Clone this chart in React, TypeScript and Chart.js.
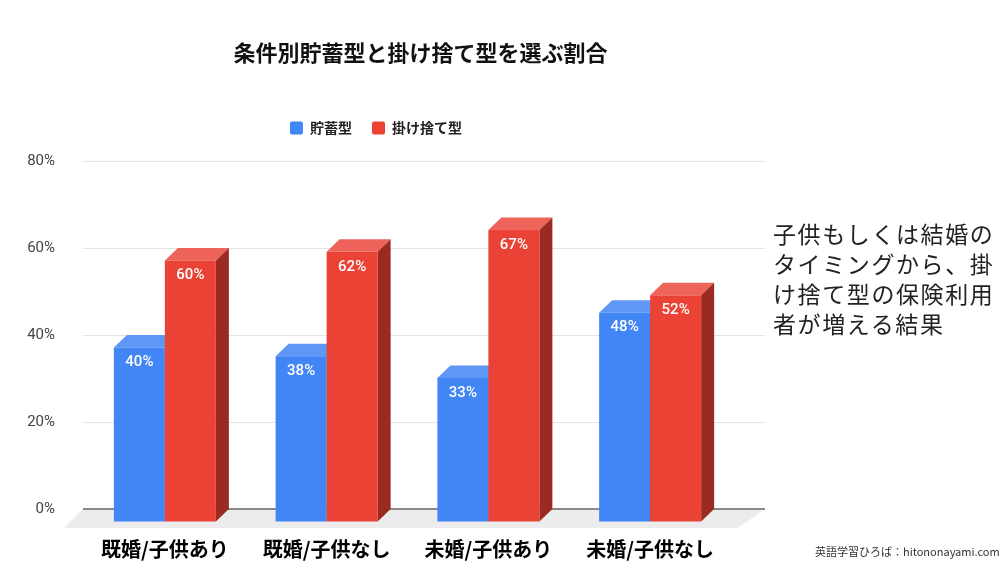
import { useEffect, useRef } from "react";
import { Chart, registerables } from "chart.js";

Chart.register(...registerables);

const categories = ["既婚/子供あり", "既婚/子供なし", "未婚/子供あり", "未婚/子供なし"];
const savingsType = [40, 38, 33, 48];
const termType = [60, 62, 67, 52];
const yTicks = [0, 20, 40, 60, 80];

const noteLines = ["子供もしくは結婚の", "タイミングから、掛", "け捨て型の保険利用", "者が増える結果"];
const sourceText = "英語学習ひろば：hitononayami.com";

const JP = "'Noto Sans CJK JP', 'Noto Sans', sans-serif";

// colours of the faces: front, top, side
const faces = [
  { front: "#4285f4", top: "#5f97f6", side: "#2f63c4" },
  { front: "#ea4335", top: "#ee635a", side: "#9a2a22" },
];

// depth offset of the fake 3d (front face sits down-left of the value)
const DX = 13;
const DY = 12.5;

const bars3d = {
  id: "bars3d",
  beforeDatasetsDraw(chart: any) {
    const { ctx, chartArea, scales } = chart;
    const y = scales.y;
    const left = chartArea.left - 14;
    const right = chartArea.right + 21;
    const base = y.getPixelForValue(0);

    ctx.save();
    // grid
    ctx.strokeStyle = "#e3e3e3";
    ctx.lineWidth = 1;
    yTicks.forEach((v) => {
      if (v === 0) return;
      const py = Math.round(y.getPixelForValue(v)) + 0.5;
      ctx.beginPath();
      ctx.moveTo(left, py);
      ctx.lineTo(right, py);
      ctx.stroke();
    });

    // floor
    ctx.fillStyle = "#ececec";
    ctx.beginPath();
    ctx.moveTo(left, base);
    ctx.lineTo(right, base);
    ctx.lineTo(right - 27, base + 19);
    ctx.lineTo(left - 19, base + 19);
    ctx.closePath();
    ctx.fill();

    ctx.strokeStyle = "#666";
    ctx.lineWidth = 1.5;
    ctx.beginPath();
    ctx.moveTo(left, base);
    ctx.lineTo(right, base);
    ctx.stroke();

    const metas = chart.data.datasets.map((_: any, d: number) => chart.getDatasetMeta(d));
    categories.forEach((_, i) => {
      metas.forEach((meta: any, d: number) => {
        const bar = meta.data[i];
        const p = bar.getProps(["x", "y", "base", "width"], true);
        const c = faces[d];
        const l = p.x - p.width / 2;
        const r = p.x + p.width / 2;
        const top = p.y;
        const bottom = p.base;

        ctx.fillStyle = c.top;
        ctx.beginPath();
        ctx.moveTo(l - DX, top + DY);
        ctx.lineTo(l, top);
        ctx.lineTo(r, top);
        ctx.lineTo(r - DX, top + DY);
        ctx.closePath();
        ctx.fill();

        ctx.fillStyle = c.side;
        ctx.beginPath();
        ctx.moveTo(r - DX, top + DY);
        ctx.lineTo(r, top);
        ctx.lineTo(r, bottom);
        ctx.lineTo(r - DX, bottom + DY);
        ctx.closePath();
        ctx.fill();

        ctx.fillStyle = c.front;
        ctx.fillRect(l - DX, top + DY, p.width, bottom - top);

        const value = chart.data.datasets[d].data[i];
        ctx.fillStyle = "#ffffff";
        ctx.font = "500 15px Roboto, sans-serif";
        ctx.textAlign = "center";
        ctx.textBaseline = "middle";
        ctx.fillText(value + "%", p.x - DX, top + DY + 15);
      });
    });
    ctx.restore();
    return false;
  },
};

// extra room under the legend
const legendGap = {
  id: "legendGap",
  beforeInit(chart: any) {
    const fit = chart.legend.fit;
    chart.legend.fit = function () {
      fit.bind(chart.legend)();
      this.height += 16;
    };
  },
};

export default function App() {
  const canvasRef = useRef<HTMLCanvasElement>(null);

  useEffect(() => {
    if (!canvasRef.current) return;
    const chart = new Chart(canvasRef.current, {
      type: "bar",
      data: {
        labels: categories,
        datasets: [
          { label: "貯蓄型", data: savingsType, backgroundColor: faces[0].front, barThickness: 51 },
          { label: "掛け捨て型", data: termType, backgroundColor: faces[1].front, barThickness: 51 },
        ],
      },
      options: {
        responsive: false,
        animation: false,
        layout: { padding: { left: 8, right: 256, top: 0, bottom: 0 } },
        plugins: {
          title: {
            display: true,
            text: "条件別貯蓄型と掛け捨て型を選ぶ割合",
            fullSize: false,
            color: "#111",
            font: { family: JP, size: 22, weight: "bold" },
            padding: { top: 39, bottom: 35.6 },
          },
          legend: {
            position: "top",
            labels: {
              boxWidth: 13,
              boxHeight: 13,
              padding: 20,
              useBorderRadius: true,
              borderRadius: 2,
              color: "#222",
              font: { family: JP, size: 14, weight: "bold" },
            },
          },
          tooltip: { enabled: false },
        },
        scales: {
          x: {
            grid: { display: false },
            border: { display: false },
            ticks: {
              labelOffset: -DX,
              padding: 20,
              color: "#000",
              font: { family: JP, size: 20, weight: "bold" },
            },
            afterFit: (s: any) => {
              s.height = 54;
            },
          },
          y: {
            min: 0,
            max: 80,
            grid: { display: false },
            border: { display: false },
            afterBuildTicks: (s: any) => {
              s.ticks = yTicks.map((v) => ({ value: v }));
            },
            ticks: {
              padding: 34,
              color: "#444",
              font: { family: "Roboto, sans-serif", size: 15 },
              callback: (v: any) => v + "%",
            },
            afterFit: (s: any) => {
              s.width = 89;
            },
          },
        },
      },
      plugins: [bars3d, legendGap],
    });
    return () => chart.destroy();
  }, []);

  return (
    <div style={{ position: "absolute", left: 0, top: 0, width: 1000, height: 563, background: "#fff", overflow: "hidden" }}>
      <canvas ref={canvasRef} width={1000} height={563} style={{ position: "absolute", left: 0, top: 0 }} />
      <div
        style={{
          position: "absolute",
          left: 773,
          top: 218,
          fontFamily: JP,
          fontSize: 23,
          lineHeight: "30px",
          letterSpacing: "1.6px",
          color: "#222",
          whiteSpace: "nowrap",
        }}
      >
        {noteLines.map((t) => (
          <div key={t}>{t}</div>
        ))}
      </div>
      <div
        style={{
          position: "absolute",
          left: 815,
          top: 543,
          fontFamily: JP,
          fontSize: 11,
          lineHeight: "16px",
          color: "#333",
          whiteSpace: "nowrap",
        }}
      >
        {sourceText}
      </div>
    </div>
  );
}
